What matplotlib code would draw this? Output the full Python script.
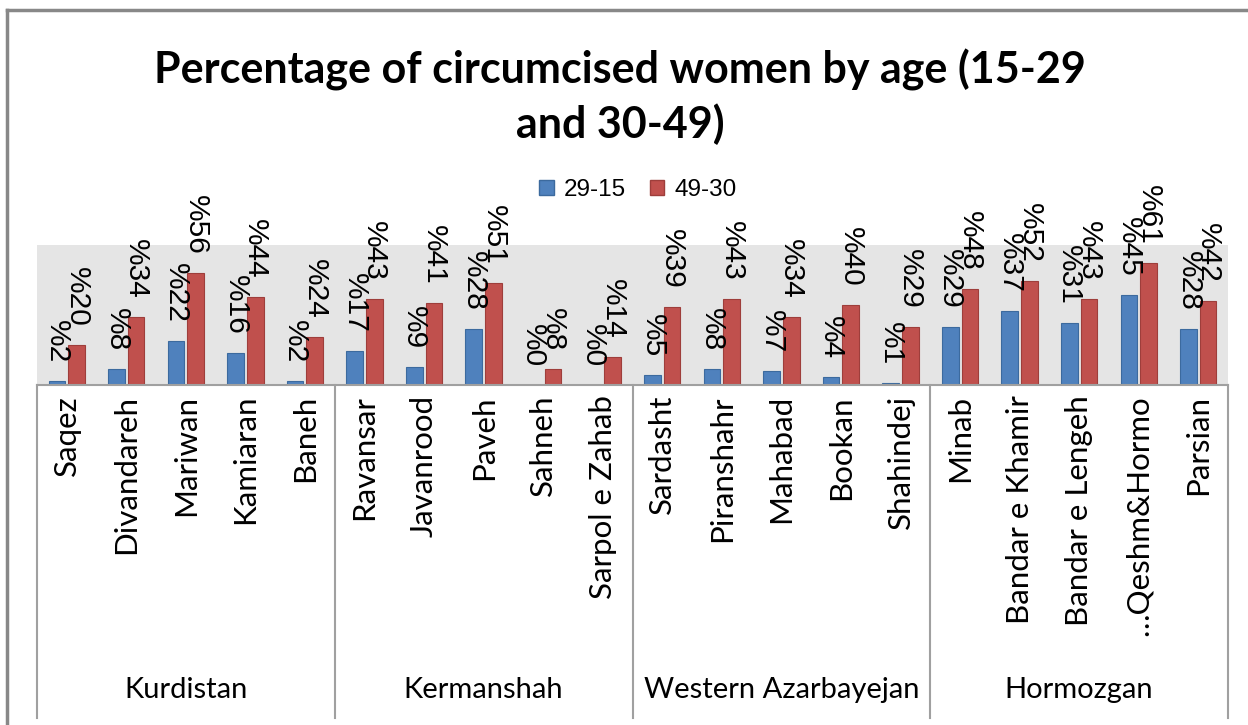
import matplotlib.pyplot as plt
import matplotlib.transforms as mtransforms
from matplotlib.lines import Line2D
from matplotlib.patches import Patch

# data
cities = ['Saqez', 'Divandareh', 'Mariwan', 'Kamiaran', 'Baneh',
          'Ravansar', 'Javanrood', 'Paveh', 'Sahneh', 'Sarpol e Zahab',
          'Sardasht', 'Piranshahr', 'Mahabad', 'Bookan', 'Shahindej',
          'Minab', 'Bandar e Khamir', 'Bandar e Lengeh', '…Qeshm&Hormo', 'Parsian']
provinces = ['Kurdistan', 'Kermanshah', 'Western Azarbayejan', 'Hormozgan']
age_15_29 = [2, 8, 22, 16, 2, 17, 9, 28, 0, 0, 5, 8, 7, 4, 1, 29, 37, 31, 45, 28]
age_30_49 = [20, 34, 56, 44, 24, 43, 41, 51, 8, 14, 39, 43, 34, 40, 29, 48, 52, 43, 61, 42]
series_names = ['29-15', '49-30']

blue = '#4F81BD'
red = '#C0504D'

fig = plt.figure(figsize=(12.48, 7.25), dpi=100)
ax = fig.add_axes([37 / 1248, 1 - 385 / 725, (1228 - 37) / 1248, 140 / 725])
ax.set_facecolor('#E5E5E5')

x = list(range(len(cities)))
w = 0.28
xb = [i - 0.165 for i in x]
xr = [i + 0.165 for i in x]
ax.bar(xb, age_15_29, width=w, color=blue, edgecolor='#3C6A9E', linewidth=0.8)
ax.bar(xr, age_30_49, width=w, color=red, edgecolor='#9E3E3B', linewidth=0.8)

# value labels
for xs, vals in [(xb, age_15_29), (xr, age_30_49)]:
    for xi, v in zip(xs, vals):
        ax.annotate('%' + str(v), (xi, v), xytext=(0, 18), textcoords='offset pixels',
                    rotation=-90, ha='center', va='bottom', fontsize=21.5,
                    family='Liberation Sans', color='black', annotation_clip=False)

ax.set_xlim(-0.5, 19.5)
ax.set_ylim(0, 70)
ax.set_xticks([])
ax.set_yticks([])
for s in ax.spines.values():
    s.set_visible(False)

# category axis box
trans = mtransforms.blended_transform_factory(ax.transData, fig.transFigure)
y_axis = 1 - 385 / 725
y_end = 1 - 718 / 725
fig.add_artist(Line2D([-0.5, 19.5], [y_axis, y_axis], transform=trans, color='#A0A0A0', lw=1.5))
for sx in [-0.5, 4.5, 9.5, 14.5, 19.5]:
    fig.add_artist(Line2D([sx, sx], [y_axis, y_end], transform=trans, color='#A0A0A0', lw=1.5))

# city labels
for i, name in enumerate(cities):
    ax.text(i, 1 - 395 / 725, name, transform=trans, rotation=90, ha='center', va='top',
            fontsize=22.5, family='Lato')

# province labels
group_centers = [2, 7, 12, 17]
for gx, pname in zip(group_centers, provinces):
    ax.text(gx, 1 - 690 / 725, pname, transform=trans, ha='center', va='center',
            fontsize=21, family='Lato')

# title
fig.text(0.497, 1 - 97 / 725, 'Percentage of circumcised women by age (15-29\nand 30-49)',
         ha='center', va='center', fontsize=31, fontweight='bold', family='Lato',
         linespacing=1.35)

# legend
handles = [Patch(facecolor=blue, edgecolor='#3C6A9E'), Patch(facecolor=red, edgecolor='#9E3E3B')]
fig.legend(handles, series_names, loc='center', bbox_to_anchor=(0.511, 1 - 190 / 725),
           ncol=2, frameon=False, prop={'family': 'Liberation Sans', 'size': 17.5},
           handlelength=0.6, handleheight=0.6, handletextpad=0.4, columnspacing=1.0)

# chart frame
fig.add_artist(Line2D([7 / 1248, 7 / 1248], [0, 1 - 10 / 725], transform=fig.transFigure,
                      color='#888888', lw=2.5))
fig.add_artist(Line2D([7 / 1248, 1], [1 - 10 / 725, 1 - 10 / 725], transform=fig.transFigure,
                      color='#888888', lw=2.5))

fig.savefig('out.png', dpi=100)
